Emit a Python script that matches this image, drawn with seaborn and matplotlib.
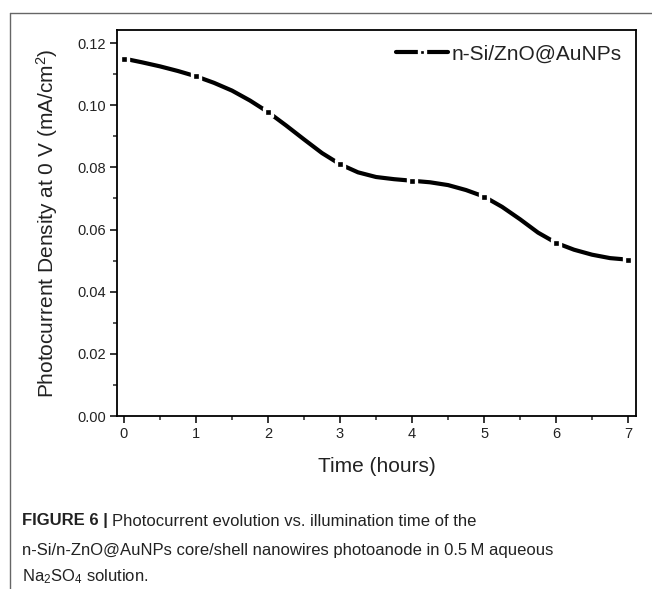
import matplotlib
matplotlib.use("Agg")
import matplotlib.pyplot as plt
from matplotlib import font_manager
from matplotlib.lines import Line2D
from matplotlib.ticker import MultipleLocator
import pandas as pd
import seaborn as sns

# measured points (hourly)
hours = [0, 1, 2, 3, 4, 5, 6, 7]
current = [0.1150, 0.1093, 0.0978, 0.0810, 0.0757, 0.0706, 0.0557, 0.0503]

# smooth trace every quarter hour
trace_t = [0, 0.25, 0.5, 0.75, 1, 1.25, 1.5, 1.75, 2, 2.25, 2.5, 2.75, 3,
           3.25, 3.5, 3.75, 4, 4.25, 4.5, 4.75, 5, 5.25, 5.5, 5.75, 6,
           6.25, 6.5, 6.75, 7]
trace_j = [0.1150, 0.1138, 0.1125, 0.1110, 0.1093, 0.1072, 0.1047, 0.1015,
           0.0978, 0.0935, 0.0890, 0.0846, 0.0810, 0.0784, 0.0769, 0.0762,
           0.0757, 0.0752, 0.0743, 0.0727, 0.0706, 0.0673, 0.0633, 0.0590,
           0.0557, 0.0535, 0.0519, 0.0508, 0.0503]

x_ticks = [0, 1, 2, 3, 4, 5, 6, 7]
y_ticks = [0.00, 0.02, 0.04, 0.06, 0.08, 0.10, 0.12]
series_name = "n-Si/ZnO@AuNPs"

pts = pd.DataFrame({"Time": hours, "J": current})
trace = pd.DataFrame({"Time": trace_t, "J": trace_j})

sns.set_style("ticks")
names = {f.name for f in font_manager.fontManager.ttflist}
narrow = "Liberation Sans Narrow" in names
cap_font = "Liberation Sans Narrow" if narrow else "Liberation Sans"
cap_size = 13 if narrow else 12
plt.rcParams["font.family"] = ["Liberation Sans", "DejaVu Sans"]
plt.rcParams["mathtext.fontset"] = "custom"
plt.rcParams["mathtext.rm"] = "Liberation Sans"
plt.rcParams["mathtext.default"] = "regular"

W, H = 652, 589
fig = plt.figure(figsize=(W / 100, H / 100), dpi=100)
ax = fig.add_axes([117 / W, 1 - 416 / H, (636 - 117) / W, (416 - 30) / H])

sns.lineplot(data=trace, x="Time", y="J", ax=ax, color="black", lw=3.0)
sns.scatterplot(data=pts, x="Time", y="J", ax=ax, marker="s", s=26,
                color="black", edgecolor="white", linewidth=2.4, zorder=3)

ax.set_xlim(-0.097, 7.11)
ax.set_ylim(0, 0.1242)
ax.set_xticks(x_ticks)
ax.set_xticklabels([str(t) for t in x_ticks])
ax.set_yticks(y_ticks)
ax.set_yticklabels([f"{v:.2f}" for v in y_ticks])
ax.xaxis.set_minor_locator(MultipleLocator(0.5))
ax.yaxis.set_minor_locator(MultipleLocator(0.01))
ax.tick_params(which="major", direction="out", length=5, width=1.3,
               labelsize=10.5, labelcolor="#222222", pad=3)
ax.tick_params(which="minor", direction="out", length=3, width=1.1)
for s in ax.spines.values():
    s.set_visible(True)
    s.set_linewidth(1.3)
    s.set_color("black")

ax.set_xlabel("Time (hours)", fontsize=15, color="#222222")
ax.set_ylabel("Photocurrent Density at 0 V (mA/cm$^2$)", fontsize=15, color="#222222")
ax.xaxis.set_label_coords(0.5, -0.105)
ax.yaxis.set_label_coords(-0.11, 0.5)

handle = Line2D([], [], color="black", lw=3.0, marker="s", ms=5,
                mfc="black", mec="white", mew=2.4)
ax.legend([handle], [series_name], loc="upper right", frameon=False,
          fontsize=15, handlelength=2.5, handletextpad=0.15, numpoints=1,
          borderaxespad=0.3, labelcolor="#222222")

# figure frame (left and top edges)
fx, fy = 9.5 / W, 1 - 12.5 / H
fig.add_artist(Line2D([fx, fx], [0, fy], color="#666666", lw=1.0))
fig.add_artist(Line2D([fx, 1], [fy, fy], color="#666666", lw=1.0))

# caption
cx = 22 / W
r = fig.canvas.get_renderer()
t1 = fig.text(cx, 1 - 521 / H, "FIGURE 6 |", family=cap_font, weight="bold",
              fontsize=cap_size, va="center", color="#222222")
bb = t1.get_window_extent(renderer=r)
fig.text(bb.x1 / W + 4 / W, 1 - 521 / H,
         "Photocurrent evolution vs. illumination time of the",
         family=cap_font, fontsize=cap_size, va="center", color="#222222")
fig.text(cx, 1 - 550 / H,
         "n-Si/n-ZnO@AuNPs core/shell nanowires photoanode in 0.5\u2009M aqueous",
         family=[cap_font, "DejaVu Sans"], fontsize=cap_size, va="center", color="#222222")
fig.text(cx, 1 - 577 / H, "Na$_2$SO$_4$ solution.",
         family=cap_font, fontsize=cap_size, va="center", color="#222222")

fig.savefig("out.png", dpi=100)
